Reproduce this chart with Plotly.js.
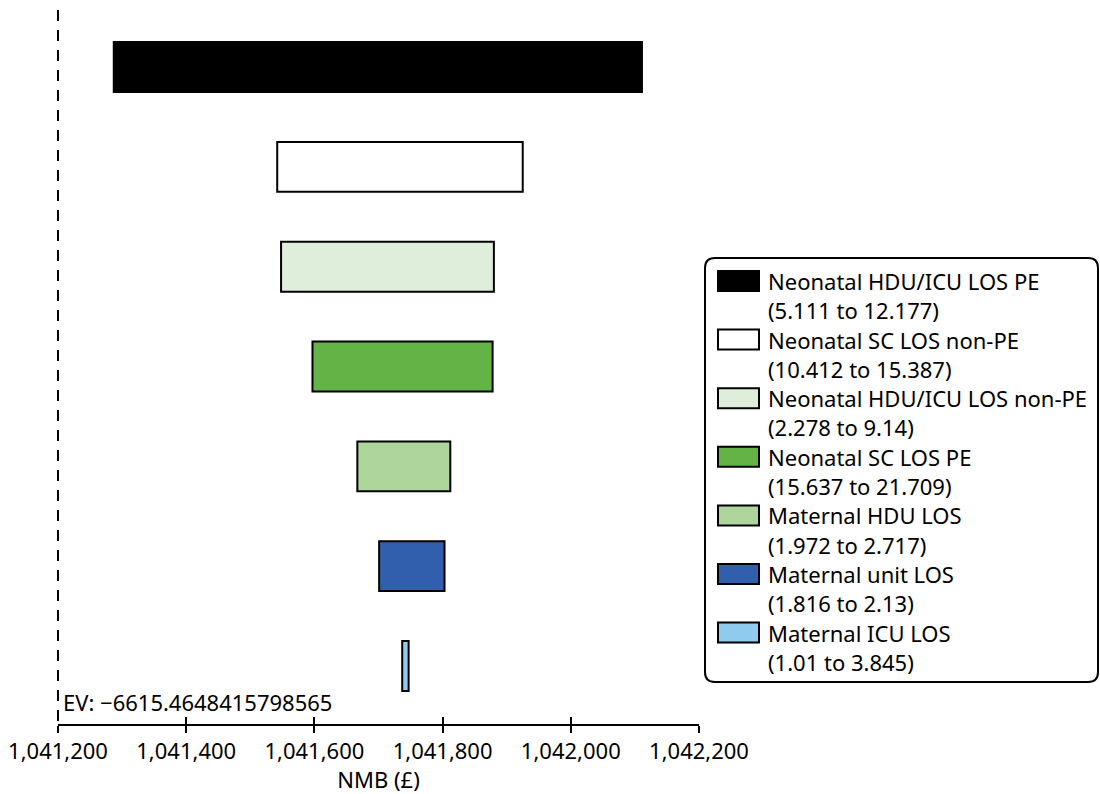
<!DOCTYPE html>
<html>
<head>
<meta charset="utf-8">
<script src="https://cdn.plot.ly/plotly-3.0.1.min.js"></script>
<style>html,body{margin:0;padding:0;background:#fff;}#chart{width:1100px;height:794px;}</style>
</head>
<body>
<div id="chart"></div>
<script>
// ---- data ----
const categories = ['Neonatal HDU/ICU LOS PE', 'Neonatal SC LOS non-PE', 'Neonatal HDU/ICU LOS non-PE', 'Neonatal SC LOS PE', 'Maternal HDU LOS', 'Maternal unit LOS', 'Maternal ICU LOS'];
const paramRanges = ['(5.111 to 12.177)', '(10.412 to 15.387)', '(2.278 to 9.14)', '(15.637 to 21.709)', '(1.972 to 2.717)', '(1.816 to 2.13)', '(1.01 to 3.845)'];
const nmbLow = [1041287, 1041542, 1041548, 1041597, 1041667, 1041701, 1041737];
const nmbHigh = [1042111, 1041925, 1041880, 1041878, 1041812, 1041803, 1041747];
const barColors = ['#000000', '#ffffff', '#dfeeda', '#64b346', '#aed59c', '#325fad', '#8ecbee'];
const evLine = 1041200;
const evLabel = 'EV: \u22126615.4648415798565';
const xTicks = [1041200, 1041400, 1041600, 1041800, 1042000, 1042200];
const xTitle = 'NMB (£)';

// ---- layout helpers (pixel -> paper) ----
const W = 1100, H = 794;
const M = {l: 58, r: 401, t: 10, b: 70};
const PW = W - M.l - M.r, PH = H - M.t - M.b;
const xp = px => (px - M.l) / PW;
const yp = py => (H - M.b - py) / PH;
const FONT = 'Noto Sans, Open Sans, sans-serif';
const FS = 22;
const xMin = xTicks[0], xMax = xTicks[xTicks.length - 1];
const evDomain = (evLine - xMin) / (xMax - xMin);

const trace = {
  type: 'bar', orientation: 'h',
  y: categories,
  base: nmbLow,
  x: nmbHigh.map((h, i) => h - nmbLow[i]),
  width: 0.5,
  marker: {color: barColors, line: {color: '#000', width: 2}},
  hoverinfo: 'skip', showlegend: false
};

const shapes = [
  {type: 'line', xref: 'x domain', yref: 'paper', x0: evDomain, x1: evDomain, y0: 1, y1: 0,
   line: {color: '#000', width: 2, dash: '11px,9px'}}
];
const annotations = [
  {xref: 'x', yref: 'paper', x: evLine, y: yp(702), xanchor: 'left', yanchor: 'middle',
   xshift: 3, showarrow: false, text: evLabel, font: {family: FONT, size: FS, color: '#000'}}
];

// legend box (rounded)
const bx0 = xp(705), bx1 = xp(1098), by0 = yp(682), by1 = yp(258);
const rx = 10 / PW, ry = 10 / PH;
shapes.push({type: 'path', xref: 'paper', yref: 'paper',
  path: `M ${bx0 + rx},${by1} L ${bx1 - rx},${by1} Q ${bx1},${by1} ${bx1},${by1 - ry} L ${bx1},${by0 + ry} Q ${bx1},${by0} ${bx1 - rx},${by0} L ${bx0 + rx},${by0} Q ${bx0},${by0} ${bx0},${by0 + ry} L ${bx0},${by1 - ry} Q ${bx0},${by1} ${bx0 + rx},${by1} Z`,
  line: {color: '#000', width: 2}, fillcolor: 'rgba(0,0,0,0)'});

categories.forEach((name, i) => {
  const yc = 281 + i * 58.6;
  shapes.push({type: 'rect', xref: 'paper', yref: 'paper',
    x0: xp(718), x1: xp(759), y0: yp(yc + 10), y1: yp(yc - 10),
    line: {color: '#000', width: 2}, fillcolor: barColors[i]});
  annotations.push({xref: 'paper', yref: 'paper', x: xp(766), y: yp(yc), xanchor: 'left', yanchor: 'middle',
    showarrow: false, text: name, font: {family: FONT, size: FS, color: '#000'}});
  annotations.push({xref: 'paper', yref: 'paper', x: xp(766), y: yp(yc + 29.3), xanchor: 'left', yanchor: 'middle',
    showarrow: false, text: paramRanges[i], font: {family: FONT, size: FS, color: '#000'}});
});

const layout = {
  width: W, height: H, autosize: false,
  margin: M,
  paper_bgcolor: '#fff', plot_bgcolor: '#fff',
  font: {family: FONT, size: FS, color: '#000'},
  showlegend: false,
  xaxis: {
    range: [xMin, xMax], tickvals: xTicks, tickformat: ',d',
    showgrid: false, zeroline: false, showline: true, linecolor: '#000', linewidth: 2,
    ticks: 'outside', ticklen: 7, tickwidth: 2, tickcolor: '#000',
    tickfont: {family: FONT, size: FS, color: '#000'},
    title: {text: xTitle, font: {family: FONT, size: FS, color: '#000'}, standoff: 6},
    fixedrange: true
  },
  xaxis2: {
    overlaying: 'x', matches: 'x', anchor: 'y', side: 'bottom',
    range: [xMin, xMax], tickvals: xTicks,
    showgrid: false, zeroline: false, showline: false, showticklabels: false,
    ticks: 'inside', ticklen: 7, tickwidth: 2, tickcolor: '#000'
  },
  yaxis: {
    type: 'category', categoryorder: 'array', categoryarray: categories,
    range: [6.581, -0.571], visible: false, fixedrange: true
  },
  shapes: shapes,
  annotations: annotations
};

const dummy = {type: 'scatter', x: [xMin], y: [categories[0]], xaxis: 'x2', yaxis: 'y',
  mode: 'markers', marker: {opacity: 0}, hoverinfo: 'skip', showlegend: false};

Plotly.newPlot('chart', [trace, dummy], layout, {staticPlot: true, displayModeBar: false});
</script>
</body>
</html>
